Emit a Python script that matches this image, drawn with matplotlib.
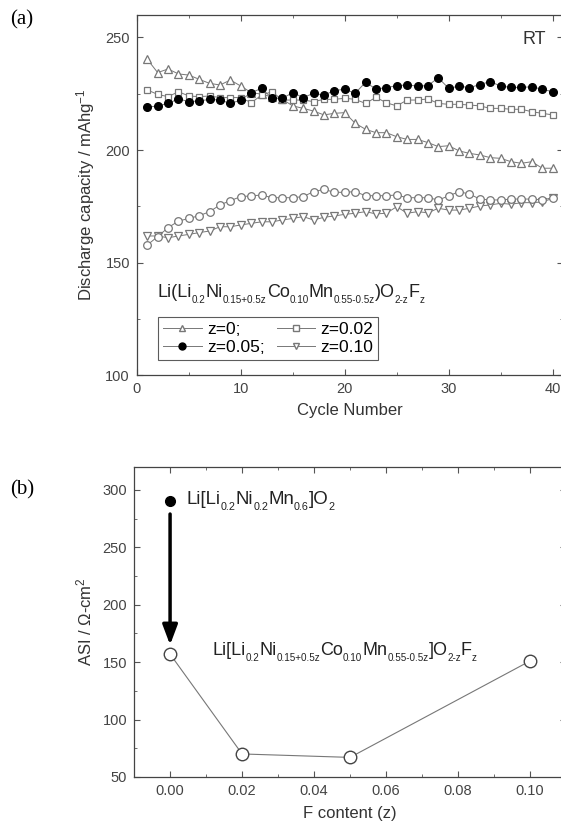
import matplotlib
matplotlib.use('Agg')
import matplotlib.pyplot as plt
from matplotlib.lines import Line2D
from matplotlib.ticker import MultipleLocator, FormatStrFormatter
from matplotlib.transforms import offset_copy
import numpy as np

plt.rcParams['font.family'] = ['Liberation Sans', 'DejaVu Sans']
plt.rcParams['mathtext.fontset'] = 'custom'
plt.rcParams['mathtext.rm'] = 'Liberation Sans'
plt.rcParams['mathtext.it'] = 'Liberation Sans'
plt.rcParams['mathtext.default'] = 'regular'

# (a) discharge capacity vs cycle number
cycles = np.arange(1, 41)
cap_z000 = [240.3, 234.4, 236.0, 233.8, 233.3, 231.4, 229.6, 228.9, 231.1, 228.4,
            225.5, 224.8, 223.6, 222.5, 219.6, 218.5, 217.3, 215.6, 216.3, 216.6,
            211.9, 209.2, 207.7, 207.7, 205.9, 204.7, 204.7, 203.3, 201.5, 201.9,
            199.6, 198.5, 197.8, 196.6, 196.3, 194.8, 194.1, 194.8, 191.9, 191.9]
cap_z002 = [226.7, 224.7, 223.7, 225.9, 224.0, 223.7, 224.0, 223.3, 223.3, 223.3,
            221.0, 224.4, 225.9, 222.2, 222.2, 222.2, 221.5, 222.5, 222.5, 223.0,
            222.5, 220.7, 223.4, 221.0, 219.6, 222.2, 222.2, 222.7, 220.7, 220.3,
            220.3, 220.0, 219.6, 218.5, 218.5, 218.1, 218.1, 217.0, 216.3, 215.6]
cap_z005 = [219.0, 219.6, 220.7, 222.7, 221.5, 221.8, 222.5, 222.2, 220.7, 222.2,
            225.5, 227.4, 223.0, 223.0, 225.5, 223.3, 225.2, 224.4, 226.4, 227.0,
            225.2, 230.1, 227.1, 227.7, 228.6, 228.9, 228.4, 228.6, 232.1, 227.4,
            228.4, 227.7, 229.1, 230.4, 228.4, 227.8, 227.8, 228.1, 227.0, 225.9]
cap_z010 = [161.8, 161.8, 161.0, 161.8, 162.5, 163.3, 164.0, 165.9, 165.9, 166.7,
            167.4, 168.1, 168.1, 168.9, 169.6, 170.4, 168.9, 170.1, 170.7, 171.4,
            171.9, 172.6, 171.6, 171.9, 174.8, 171.9, 172.6, 172.1, 174.1, 173.3,
            173.3, 174.1, 175.1, 175.6, 176.3, 175.9, 176.6, 176.6, 176.9, 178.5]
cap_open = [157.8, 161.5, 165.5, 168.4, 169.6, 170.8, 172.6, 175.6, 177.5, 179.3,
            179.6, 180.0, 178.8, 178.8, 178.8, 179.3, 181.5, 182.5, 181.2, 181.2,
            181.5, 179.7, 179.7, 179.7, 180.0, 178.8, 178.8, 178.8, 177.8, 179.6,
            181.5, 180.4, 178.2, 177.8, 177.8, 178.2, 178.2, 178.2, 177.8, 178.8]

# (b) ASI vs F content
f_content = [0.00, 0.02, 0.05, 0.10]
asi = [157, 70, 67, 151]
asi_ref_z = 0.00
asi_ref = 290

# chemical formulas as (text, is_subscript) pieces
formula_a = [('Li(Li', 0), ('0.2', 1), ('Ni', 0), ('0.15+0.5z', 1), ('Co', 0), ('0.10', 1),
             ('Mn', 0), ('0.55-0.5z', 1), (')O', 0), ('2-z', 1), ('F', 0), ('z', 1)]
formula_ref = [('Li[Li', 0), ('0.2', 1), ('Ni', 0), ('0.2', 1), ('Mn', 0), ('0.6', 1),
               (']O', 0), ('2', 1)]
formula_b = [('Li[Li', 0), ('0.2', 1), ('Ni', 0), ('0.15+0.5z', 1), ('Co', 0), ('0.10', 1),
             ('Mn', 0), ('0.55-0.5z', 1), (']O', 0), ('2-z', 1), ('F', 0), ('z', 1)]

gray = '#777777'
tick_col = '#444444'

fig = plt.figure(figsize=(5.61, 8.23), dpi=100)
renderer = fig.canvas.get_renderer()


def chem_text(ax, x, y, parts, size=13, sub=0.55, drop=0.33, color='#222222'):
    xoff = 0.0
    for s, is_sub in parts:
        fs = size * sub if is_sub else size
        dy = -size * drop if is_sub else 0
        tr = offset_copy(ax.transData, fig=fig, x=xoff, y=dy, units='points')
        t = ax.text(x, y, s, fontsize=fs, color=color, transform=tr, va='baseline', ha='left')
        xoff += t.get_window_extent(renderer).width * 72.0 / fig.dpi


# ---- panel (a)
ax1 = fig.add_axes([0.244, 0.5443, 0.7596, 0.4375])
ax1.plot(cycles, cap_z000, '-^', color=gray, lw=0.7, ms=6, mfc='white', mec=gray, mew=0.9)
ax1.plot(cycles, cap_z002, '-s', color=gray, lw=0.7, ms=5, mfc='white', mec=gray, mew=0.9)
ax1.plot(cycles, cap_z005, '-o', color=gray, lw=0.7, ms=5.5, mfc='black', mec='black')
ax1.plot(cycles, cap_z010, '-v', color=gray, lw=0.7, ms=6, mfc='white', mec=gray, mew=0.9)
ax1.plot(cycles, cap_open, '-o', color=gray, lw=0.7, ms=5.5, mfc='white', mec=gray, mew=0.9)

ax1.set_xlim(0, 41)
ax1.set_ylim(100, 260)
ax1.xaxis.set_major_locator(MultipleLocator(10))
ax1.xaxis.set_minor_locator(MultipleLocator(5))
ax1.yaxis.set_major_locator(MultipleLocator(50))
ax1.yaxis.set_minor_locator(MultipleLocator(25))
ax1.set_xlabel('Cycle Number', fontsize=12, color='#333333', labelpad=5)
ax1.set_ylabel('Discharge capacity / mAhg$^{-1}$', fontsize=12, color='#333333', labelpad=6)
ax1.text(38.2, 249, 'RT', fontsize=13, color='#333333', va='center', ha='center')
chem_text(ax1, 2.0, 134.8, formula_a)

h = [Line2D([], [], color=gray, lw=0.7, marker='^', ms=5, mfc='white', mec=gray),
     Line2D([], [], color=gray, lw=0.7, marker='o', ms=5, mfc='black', mec='black'),
     Line2D([], [], color=gray, lw=0.7, marker='s', ms=4, mfc='white', mec=gray),
     Line2D([], [], color=gray, lw=0.7, marker='v', ms=5, mfc='white', mec=gray)]
leg = ax1.legend(h, ['z=0;', 'z=0.05;', 'z=0.02', 'z=0.10'], ncol=2, loc='lower left',
                 bbox_to_anchor=(0.05, 0.042), fontsize=12.5, frameon=True, fancybox=False,
                 edgecolor='#333333', handlelength=2.2, handletextpad=0.3,
                 columnspacing=0.7, labelspacing=0.15, borderpad=0.3, borderaxespad=0)
leg.get_frame().set_linewidth(0.8)

# ---- panel (b)
ax2 = fig.add_axes([0.239, 0.056, 0.77, 0.3766])
ax2.plot(f_content, asi, '-o', color=gray, lw=0.8, ms=9, mfc='white', mec='#444444', mew=1.0)
ax2.plot([asi_ref_z], [asi_ref], 'o', ms=7, color='black')
ax2.annotate('', xy=(0.0, 165), xytext=(0.0, 279),
             arrowprops=dict(arrowstyle='-|>,head_length=1.2,head_width=0.45',
                             color='black', lw=2.5, shrinkA=0, shrinkB=0))
chem_text(ax2, 0.0047, 288, formula_ref, size=13.4, sub=0.58)
chem_text(ax2, 0.0117, 156, formula_b)

ax2.set_xlim(-0.01, 0.11)
ax2.set_ylim(50, 320)
ax2.xaxis.set_major_locator(MultipleLocator(0.02))
ax2.xaxis.set_minor_locator(MultipleLocator(0.01))
ax2.xaxis.set_major_formatter(FormatStrFormatter('%.2f'))
ax2.yaxis.set_major_locator(MultipleLocator(50))
ax2.yaxis.set_minor_locator(MultipleLocator(25))
ax2.set_xlabel('F content (z)', fontsize=12, color='#333333', labelpad=6)
ax2.set_ylabel('ASI / Ω-cm$^2$', fontsize=12, color='#333333', labelpad=6)

for ax in (ax1, ax2):
    ax.tick_params(which='both', direction='in', top=True, right=True,
                   labelsize=10.5, labelcolor=tick_col, color='#555555')
    ax.tick_params(which='major', length=4, pad=5)
    ax.tick_params(which='minor', length=2.5)
    for s in ax.spines.values():
        s.set_color('#444444')
        s.set_linewidth(0.9)

fig.text(0.018, 0.976, '(a)', fontsize=15, family='Liberation Serif', va='center')
fig.text(0.018, 0.405, '(b)', fontsize=15, family='Liberation Serif', va='center')

fig.savefig('out.png', dpi=100)
